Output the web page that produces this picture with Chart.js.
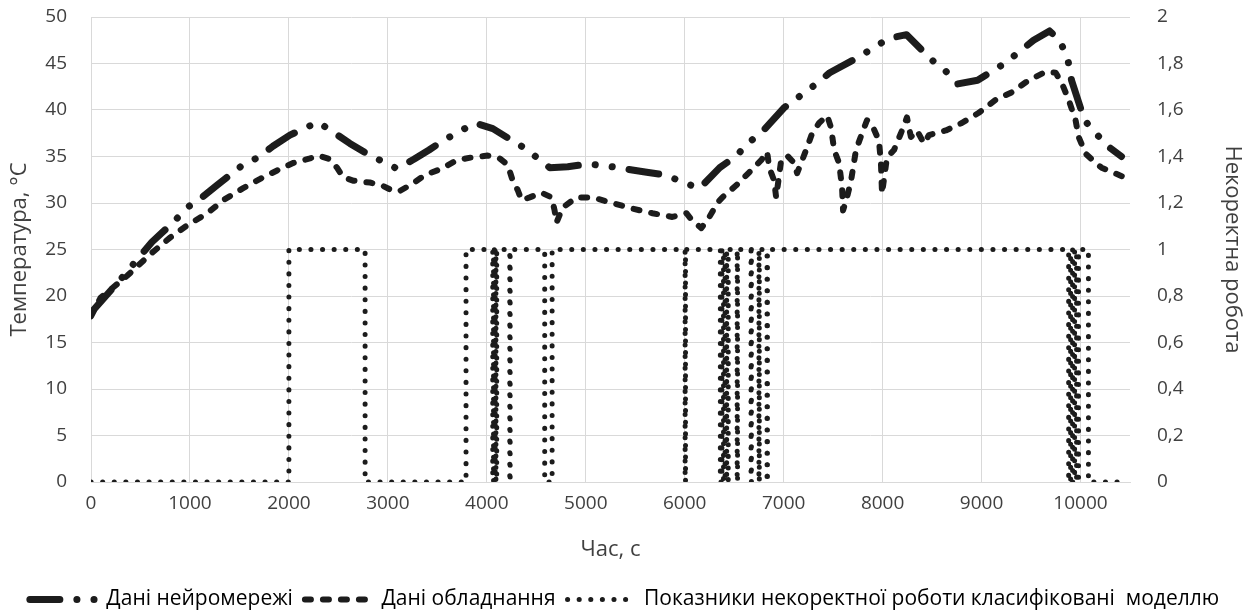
<!DOCTYPE html>
<html>
<head>
<meta charset="utf-8">
<script src="https://cdn.jsdelivr.net/npm/chart.js@4/dist/chart.umd.min.js"></script>
<style>
  html, body { margin: 0; padding: 0; background: #fff; }
  #wrap { width: 1256px; height: 616px; }
</style>
</head>
<body>
<div id="wrap"><canvas id="tempChart" width="1256" height="616"></canvas></div>
<script>
// Дані нейромережі (час, с / температура, °C)
const timeNN = [0, 300, 616, 848, 970, 1121, 1273, 1535, 1687, 1838, 2010, 2293, 2465, 2616, 2788, 3091,
    3263, 3416, 3556, 3879, 4061, 4212, 4384, 4636, 4818, 5030, 5263, 5616, 5818, 5980, 6152, 6354,
    6525, 6636, 6778, 7010, 7152, 7303, 7465, 7758, 7909, 8061, 8242, 8495, 8636, 8758, 8960, 9232,
    9374, 9525, 9687, 9788, 9869, 9909, 10040, 10263, 10414];
const tempNN = [18.2, 21.8, 25.8, 28.1, 29.5, 30.6, 31.9, 34.1, 34.9, 36.1, 37.3, 38.7, 37.5, 36.4, 35.3, 33.7,
    34.7, 35.7, 36.7, 38.6, 38.0, 37.0, 35.9, 33.8, 33.9, 34.2, 33.9, 33.3, 33.0, 32.2, 31.6, 33.8,
    35.1, 36.4, 37.6, 40.3, 41.4, 42.6, 44.0, 45.7, 46.7, 47.7, 48.1, 45.4, 44.2, 42.8, 43.2, 45.0,
    46.2, 47.5, 48.5, 47.5, 45.6, 43.2, 38.9, 36.2, 35.0];

// Дані обладнання
const timeEq = [0, 96, 368, 600, 802, 973, 1175, 1336, 1538, 1710, 1881, 2042, 2214, 2295, 2416, 2486,
    2547, 2648, 2819, 2940, 3051, 3122, 3253, 3374, 3545, 3696, 3848, 4009, 4130, 4211, 4262, 4312,
    4352, 4433, 4554, 4655, 4685, 4705, 4766, 4907, 5068, 5270, 5472, 5674, 5875, 6017, 6077, 6168,
    6249, 6330, 6380, 6521, 6652, 6773, 6833, 6854, 6904, 6924, 6975, 7035, 7106, 7136, 7227, 7288,
    7358, 7439, 7479, 7510, 7560, 7590, 7600, 7640, 7681, 7731, 7792, 7842, 7893, 7963, 7983, 7994,
    8044, 8115, 8185, 8246, 8286, 8347, 8417, 8468, 8639, 8800, 8972, 9143, 9305, 9476, 9648, 9749,
    9810, 9880, 9950, 9981, 10052, 10153, 10213, 10435];
const tempEq = [17.8, 19.8, 22.2, 24.5, 26.3, 27.6, 28.9, 30.3, 31.6, 32.6, 33.5, 34.3, 34.8, 35.1, 34.7, 33.8,
    32.8, 32.4, 32.2, 31.9, 31.3, 31.3, 32.1, 33.0, 33.7, 34.6, 34.9, 35.1, 34.8, 34.1, 32.4, 31.4,
    30.3, 30.6, 31.1, 30.6, 29.2, 27.9, 29.5, 30.6, 30.6, 30.0, 29.4, 28.9, 28.5, 28.9, 28.1, 27.3,
    28.5, 30.0, 30.6, 31.9, 33.3, 34.6, 35.5, 33.8, 32.4, 30.6, 34.6, 35.1, 34.3, 33.2, 35.7, 37.5,
    38.6, 39.4, 38.1, 35.7, 34.3, 31.7, 29.2, 30.6, 32.4, 35.7, 37.5, 38.9, 38.4, 36.7, 34.3, 31.0,
    34.9, 35.7, 37.5, 39.2, 37.1, 37.8, 36.4, 37.3, 37.8, 38.6, 39.7, 41.1, 41.9, 43.2, 44.1, 44.0,
    42.9, 41.1, 38.9, 37.1, 35.3, 34.3, 33.8, 32.8];

// Показники некоректної роботи (0 / 1), значення діє від зазначеного часу
const timeFault = [0, 2000, 2770, 3790, 4060, 4068, 4076, 4084, 4092, 4100, 4232, 4236, 4585, 4660,
    6004, 6008, 6360, 6376, 6392, 6408, 6424, 6440, 6530, 6534, 6670, 6674, 6750, 6754, 6832, 6836,
    9880, 9900, 9920, 9940, 9960, 9980, 10080, 10450];
const faultFlag = [0, 1, 0, 1, 0, 1, 0, 1, 0, 1, 0, 1, 0, 1,
    0, 1, 0, 1, 0, 1, 0, 1, 0, 1, 0, 1, 0, 1, 0, 1,
    0, 1, 0, 1, 0, 1, 0, 0];

// Поділки осі часу
const timeTicks = [0, 1000, 2000, 3000, 4000, 5000, 6000, 7000, 8000, 9000, 10000];

const seriesLabels = ['Дані нейромережі', 'Дані обладнання', 'Показники некоректної роботи класифіковані  моделлю'];

const toPoints = (xs, ys) => xs.map((x, i) => ({ x: x, y: ys[i] }));
const textColor = '#404040';
const gridColor = '#d9d9d9';
const ink = '#1c1c1c';

const ctx = document.getElementById('tempChart').getContext('2d');
const tempChart = new Chart(ctx, {
    type: 'line',
    data: {
        datasets: [
            {
                label: seriesLabels[0],
                data: toPoints(timeNN, tempNN),
                borderColor: ink,
                backgroundColor: ink,
                borderWidth: 7,
                borderDash: [30, 17, 0.1, 17, 0.1, 17],
                borderCapStyle: 'round',
                borderJoinStyle: 'round',
                pointRadius: 0,
                yAxisID: 'y'
            },
            {
                label: seriesLabels[1],
                data: toPoints(timeEq, tempEq),
                borderColor: ink,
                backgroundColor: ink,
                borderWidth: 6,
                borderDash: [6, 12],
                borderCapStyle: 'round',
                borderJoinStyle: 'round',
                pointRadius: 0,
                yAxisID: 'y'
            },
            {
                label: seriesLabels[2],
                data: toPoints(timeFault, faultFlag),
                borderColor: ink,
                backgroundColor: ink,
                borderWidth: 5,
                borderDash: [0.1, 11.5],
                borderCapStyle: 'round',
                stepped: true,
                pointRadius: 0,
                yAxisID: 'y1'
            }
        ]
    },
    options: {
        responsive: false,
        animation: false,
        layout: { padding: { left: 4, right: 11, top: 17, bottom: -4 } },
        plugins: {
            tooltip: { enabled: false },
            legend: {
                position: 'bottom',
                labels: {
                    usePointStyle: true,
                    pointStyleWidth: 66,
                    padding: 12,
                    color: '#1a1a1a',
                    font: { family: 'Open Sans', size: 21 },
                    generateLabels: (chart) => chart.data.datasets.map((ds, i) => ({
                        text: ds.label,
                        datasetIndex: i,
                        pointStyle: 'line',
                        strokeStyle: ink,
                        fillStyle: ink,
                        lineWidth: ds.borderWidth,
                        lineDash: ds.borderDash,
                        lineCap: 'round',
                        hidden: false
                    }))
                }
            }
        },
        scales: {
            x: {
                type: 'linear',
                min: 0,
                max: 10500,
                afterBuildTicks: (scale) => {
                    scale.ticks = timeTicks.map(v => ({ value: v }));
                },
                afterFit: (scale) => { scale.height = 95; },
                ticks: {
                    autoSkip: false,
                    padding: 10,
                    color: textColor,
                    font: { family: 'Open Sans', size: 19 },
                    maxRotation: 0,
                    callback: (v) => String(v)
                },
                grid: { color: gridColor, drawTicks: false },
                border: { color: gridColor },
                title: {
                    display: true,
                    text: 'Час, с',
                    color: textColor,
                    font: { family: 'Open Sans', size: 22 },
                    padding: { top: 4, bottom: 14 }
                }
            },
            y: {
                position: 'left',
                min: 0,
                max: 50,
                afterFit: (scale) => { scale.width = 87; },
                ticks: {
                    stepSize: 5,
                    padding: 2,
                    color: textColor,
                    font: { family: 'Open Sans', size: 19 }
                },
                grid: { color: gridColor, drawTicks: true, tickLength: 22, tickColor: 'rgba(0,0,0,0)' },
                border: { color: gridColor },
                title: {
                    display: true,
                    text: 'Температура, °C',
                    color: textColor,
                    font: { family: 'Open Sans', size: 22 },
                    padding: { top: 3, bottom: 0 }
                }
            },
            y1: {
                position: 'right',
                min: 0,
                max: 2,
                afterFit: (scale) => { scale.width = 115; },
                ticks: {
                    stepSize: 0.2,
                    padding: 2,
                    color: textColor,
                    font: { family: 'Open Sans', size: 19 },
                    callback: (v) => String(Math.round(v * 10) / 10).replace('.', ',')
                },
                grid: { drawOnChartArea: false, drawTicks: true, tickLength: 25, tickColor: 'rgba(0,0,0,0)' },
                border: { display: false },
                title: {
                    display: true,
                    text: 'Некоректна робота',
                    color: textColor,
                    font: { family: 'Open Sans', size: 22 },
                    padding: { top: 0, bottom: 0 }
                }
            }
        }
    }
});
</script>
</body>
</html>
